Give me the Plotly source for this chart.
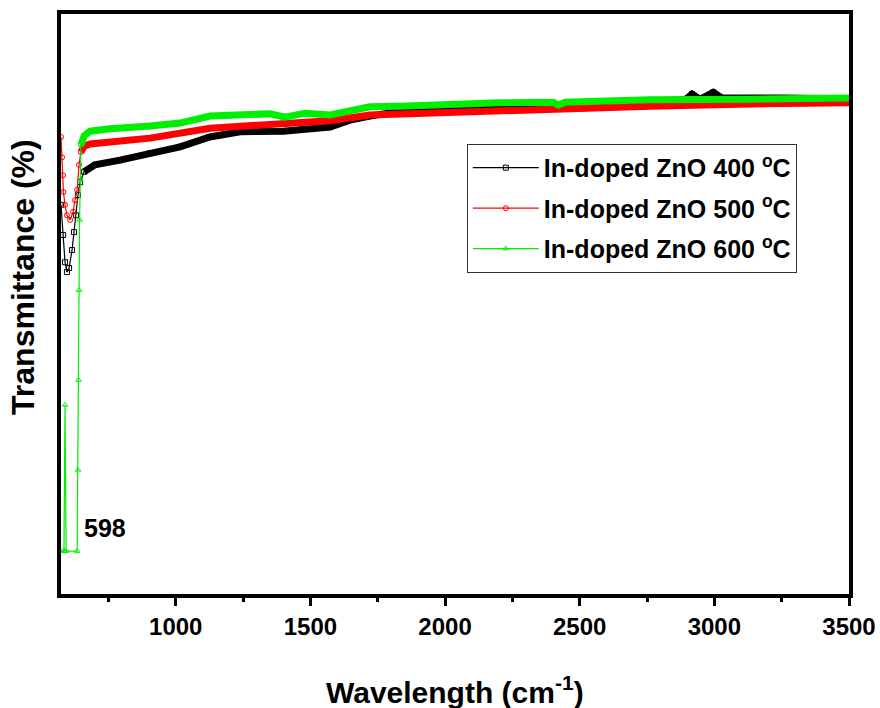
import plotly.graph_objects as go

# ---- data (wavenumber cm^-1, transmittance a.u.) ----
w400 = [574, 582, 589, 596, 604, 615, 622, 630, 637, 645, 660, 700, 793, 905, 1016, 1127,
        1239, 1399, 1473, 1573, 1647, 1721, 1907, 2204, 2401, 2420, 2761, 2891, 2917, 2947,
        2996, 3029, 3245, 3500]
t400 = [67.1, 61.9, 57.2, 55.5, 56.2, 59.3, 62.4, 65.3, 68.8, 71.0, 72.8, 74.0, 74.8, 76.0,
        77.1, 78.8, 79.7, 79.8, 80.2, 80.5, 81.7, 82.4, 83.8, 84.5, 84.7, 84.1, 85.0, 85.2,
        86.2, 85.3, 86.5, 85.5, 85.5, 85.4]

w500 = [574, 578, 582, 583, 589, 596, 608, 619, 626, 634, 641, 648, 660, 682, 905, 1127,
        1276, 1462, 1573, 1721, 1907, 2130, 2401, 2420, 2761, 3132, 3500]
t500 = [78.8, 75.3, 72.2, 69.3, 67.1, 65.3, 64.5, 65.9, 67.9, 69.7, 74.0, 76.2, 77.2, 77.6,
        78.6, 80.3, 80.7, 81.4, 81.6, 82.6, 82.9, 83.3, 83.8, 83.6, 84.1, 84.5, 84.7]

w600 = [574, 585, 589, 593, 634, 637, 639, 641, 643, 645, 648, 660, 682, 756, 905, 1016,
        1127, 1276, 1350, 1406, 1480, 1573, 1721, 1833, 2018, 2204, 2401, 2420, 2446, 2761,
        3132, 3500]
t600 = [7.4, 7.4, 32.6, 7.4, 7.4, 21.4, 36.9, 52.4, 64.5, 71.4, 77.4, 79.0, 79.8, 80.2,
        80.7, 81.2, 82.4, 82.6, 82.8, 82.2, 82.9, 82.6, 84.0, 84.1, 84.5, 84.7, 84.8, 84.3,
        84.8, 85.2, 85.3, 85.5]

names = ["In-doped ZnO 400 <sup>o</sup>C", "In-doped ZnO 500 <sup>o</sup>C",
         "In-doped ZnO 600 <sup>o</sup>C"]
colors = ["#000000", "#ff0000", "#00ee00"]
symbols = ["square-open", "circle-open", "triangle-up-open"]
plateau_from = [10, 11, 10]   # index where the dense (thick) part of each curve begins

FONT = "Liberation Sans, Arial, sans-serif"

fig = go.Figure()
series = [(w400, t400), (w500, t500), (w600, t600)]
for i, (w, t) in enumerate(series):
    fig.add_trace(go.Scatter(
        x=w, y=t, mode="lines+markers", name=names[i], legendgroup=str(i),
        line=dict(color=colors[i], width=1.2),
        marker=dict(symbol=symbols[i], size=5, color=colors[i], line=dict(width=1))))
    k = plateau_from[i]
    fig.add_trace(go.Scatter(
        x=w[k:], y=t[k:], mode="lines", showlegend=False, legendgroup=str(i),
        line=dict(color=colors[i], width=7), hoverinfo="skip"))

fig.add_annotation(x=652, y=11.4, xref="x", yref="y", text="598", showarrow=False,
                   xanchor="left", yanchor="middle",
                   font=dict(family=FONT, size=25, color="black", weight="bold"))
fig.add_annotation(x=0.5, y=-0.165, xref="paper", yref="paper",
                   text="Wavelength (cm<sup>-1</sup>)", showarrow=False,
                   xanchor="center", yanchor="middle",
                   font=dict(family=FONT, size=30, color="black", weight="bold"))
fig.add_annotation(x=-0.048, y=0.547, xref="paper", yref="paper",
                   text="Transmittance (%)", showarrow=False, textangle=-90,
                   xanchor="center", yanchor="middle",
                   font=dict(family=FONT, size=32, color="black", weight="bold"))

fig.update_layout(
    width=880, height=708,
    margin=dict(l=61, r=31, t=14, b=114, autoexpand=False),
    paper_bgcolor="white", plot_bgcolor="white",
    showlegend=True,
    legend=dict(x=0.515, y=0.776, xanchor="left", yanchor="top",
                bgcolor="white", bordercolor="#333333", borderwidth=1,
                traceorder="grouped", tracegroupgap=5, itemwidth=66,
                font=dict(family=FONT, size=25, color="black", weight="bold")),
    xaxis=dict(range=[574, 3500], showgrid=False, zeroline=False, automargin=False,
               showline=True, linecolor="black", linewidth=4, mirror=True,
               ticks="outside", ticklen=8, tickwidth=3, tickcolor="black",
               tick0=0, dtick=500,
               minor=dict(dtick=250, ticks="outside", ticklen=4, tickwidth=3,
                          tickcolor="black", showgrid=False),
               tickfont=dict(family=FONT, size=24, color="black", weight="bold")),
    yaxis=dict(range=[0, 100], showgrid=False, zeroline=False, automargin=False,
               showline=True, linecolor="black", linewidth=4, mirror=True,
               ticks="", showticklabels=False),
)

fig.write_html("out.html")
